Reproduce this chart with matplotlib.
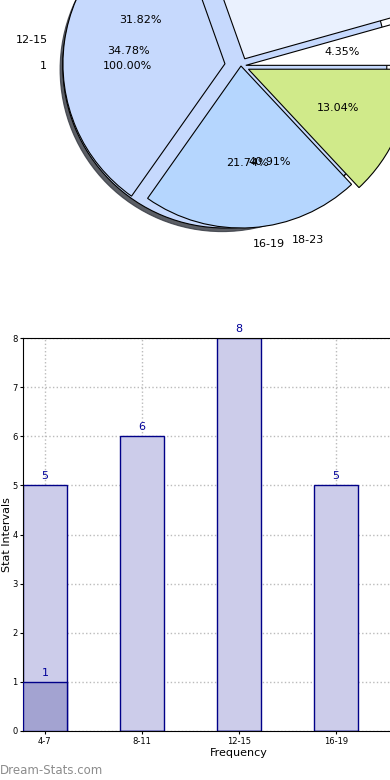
import numpy as np
import matplotlib
matplotlib.use('Agg')
import matplotlib.pyplot as plt

# pie data (three pies drawn on top of each other)
pie1_values = [1]
pie1_labels = ['1']
pie2_values = [6, 7, 9]
pie2_labels = ['4-7', '8-11', '18-23']
pie3_values = [1, 6, 8, 5, 3]
pie3_labels = ['4-7', '8-11', '12-15', '16-19', '20-23']
pie3_colors = ['#ffffff', '#eaf1fe', '#c6d9fd', '#b5d6fe', '#d0ea8a']

# bar data
categories = ['4-7', '8-11', '12-15', '16-19', '20-23']
bar_values = [5, 6, 8, 5, 3]
overlay_values = [1, 0, 0, 0, 0]

W, H = 390, 780
fig = plt.figure(figsize=(3.9, 7.8), dpi=100)

# ---- pie ----
cx, cy, r = 241, 66, 162      # pie centre and radius in pixels
lim = 1.6
side = 2 * lim * r
axp = fig.add_axes([(cx - side / 2) / W, (H - cy - side / 2) / H, side / W, side / H])

wp = {'linewidth': 0.8, 'edgecolor': 'black'}
tp = {'fontsize': 8}
axp.pie(pie1_values, labels=pie1_labels, colors=['#c6d9fd'], explode=[0.1],
        autopct='%.2f%%', shadow={'ox': -0.012, 'oy': -0.016, 'shade': 0.75, 'alpha': 0.8},
        wedgeprops=wp, textprops=tp)
axp.pie(pie2_values, labels=pie2_labels, explode=[0.05, 0.08, 0.02],
        autopct='%.2f%%', wedgeprops={'visible': False}, textprops=tp)
axp.pie(pie3_values, labels=pie3_labels, colors=pie3_colors,
        explode=[0.03, 0.05, 0.1, 0.0, 0.05],
        autopct='%.2f%%', wedgeprops=wp, textprops=tp)
axp.set_xlim(-lim, lim)
axp.set_ylim(-lim, lim)
axp.axis('off')

# ---- bars ----
x0, x1, y0, y1 = 23, 455, 338, 731
axb = fig.add_axes([x0 / W, (H - y1) / H, (x1 - x0) / W, (y1 - y0) / H])
x = np.arange(len(categories))
axb.bar(x, bar_values, width=0.45, color='#ccccea', edgecolor='#000088',
        linewidth=1, zorder=2)
axb.bar(x, overlay_values, width=0.45, color='#a3a3d1', edgecolor='#000088',
        linewidth=1, zorder=3)
for i, v in enumerate(bar_values):
    axb.text(x[i], v + 0.08, str(v), ha='center', va='bottom', color='#000099',
             fontsize=8, zorder=4)
for i, v in enumerate(overlay_values):
    if v:
        axb.text(x[i], v + 0.08, str(v), ha='center', va='bottom', color='#000099',
                 fontsize=8, zorder=4)

axb.set_xlim(-0.225, len(categories) - 1 + 0.225)
axb.set_ylim(0, 8)
axb.set_xticks(x)
axb.set_xticklabels(categories)
axb.set_yticks(range(0, 9))
axb.tick_params(labelsize=6, length=2, pad=2)
axb.grid(True, linestyle=':', color='#bbbbbb', linewidth=1, zorder=0)
axb.set_axisbelow(True)
axb.set_xlabel('Frequency', fontsize=8, labelpad=2)
axb.set_ylabel('Stat Intervals', fontsize=8)
axb.yaxis.set_label_coords(-0.025, 0.5)

fig.text(0.0, 0.004, 'Dream-Stats.com', color='#8c8c8c', fontsize=8.5,
         ha='left', va='bottom')

fig.savefig('out.png', dpi=100)
